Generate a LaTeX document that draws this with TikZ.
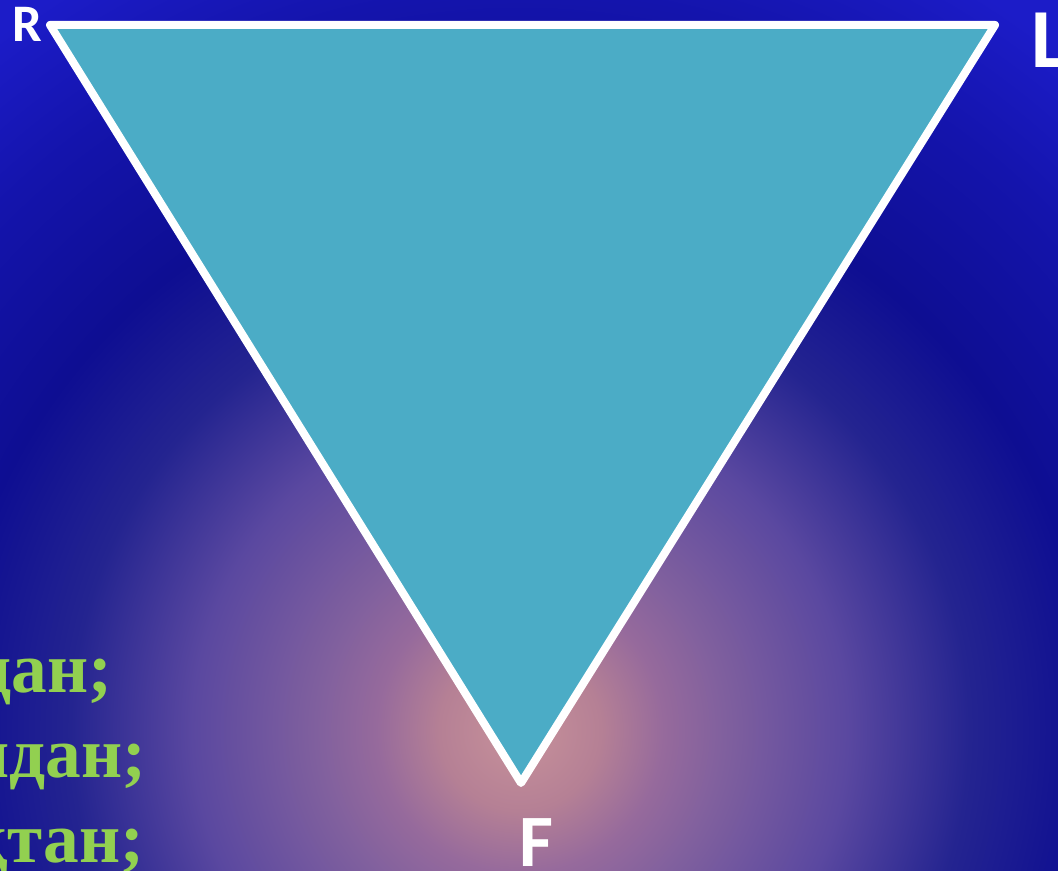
\documentclass[tikz,border=0pt]{standalone}
\usepackage{fontspec}
\setmainfont{Liberation Serif}
\newfontfamily\labelfont{Carlito}
\usepackage{tikz}
\usepackage{xcolor}
\definecolor{bgBlue}{HTML}{1C1CC8}
\definecolor{bgMid}{HTML}{1414AC}
\definecolor{bgNavy}{HTML}{0E0E92}
\definecolor{glowIndigo}{HTML}{242490}
\definecolor{glowPurple}{HTML}{5A48A0}
\definecolor{glowViolet}{HTML}{80609E}
\definecolor{glowMauve}{HTML}{966A9C}
\definecolor{glowRose}{HTML}{B58095}
\definecolor{glowPink}{HTML}{C8929A}
\definecolor{triTeal}{HTML}{4BACC6}
\definecolor{kzGreen}{HTML}{92D050}
\pgfdeclareradialshading{bgglow}{\pgfpoint{0bp}{0bp}}{%
  color(0bp)=(glowPink); color(2.2bp)=(glowRose); color(3.9bp)=(glowMauve);
  color(5.55bp)=(glowViolet); color(8.9bp)=(glowPurple); color(12.2bp)=(glowIndigo);
  color(15.55bp)=(bgNavy); color(20bp)=(bgMid); color(23.6bp)=(bgBlue); color(25bp)=(bgBlue);
  color(50bp)=(bgBlue)}

\begin{document}
\begin{tikzpicture}[
    x=0.01cm, y=-0.01cm,
    tribox/.style={fill=triTeal, draw=white, line width=0.08cm, line join=round},
    cornerlabel/.style={text=white, inner sep=0pt},
    kztext/.style={text=kzGreen, inner sep=0pt, anchor=base east, font={\bfseries\fontsize{20.3pt}{24pt}\selectfont}}
]
\useasboundingbox (0,0) rectangle (1058,871);
\clip (0,0) rectangle (1058,871);

% Background
\fill[bgBlue] (0,0) rectangle (1058,871);
\coordinate (glow) at (520,730);
\shade[shading=bgglow] (glow) circle[radius=9.2cm];

% Triangle
\coordinate (R) at (50,25);
\coordinate (L) at (995,25);
\coordinate (F) at (521,783);
\filldraw[tribox] (R) -- (L) -- (F) -- cycle;

% Corner labels
\node[cornerlabel, font={\labelfont\bfseries\fontsize{15pt}{18pt}\selectfont}] (Rlab) at (27,24) {R};
\node[cornerlabel, font={\labelfont\bfseries\fontsize{23.9pt}{28pt}\selectfont}, anchor=west] (Llab) at (1031,40) {L};
\node[cornerlabel, font={\labelfont\bfseries\fontsize{21pt}{25pt}\selectfont}] (Flab) at (536,843) {F};

% Text lines
\node[kztext] (line1) at (113,693) {дан;};
\node[kztext] (line2) at (147,778) {идан;};
\node[kztext] (line3) at (145,863) {қтан;};

\end{tikzpicture}
\end{document}
